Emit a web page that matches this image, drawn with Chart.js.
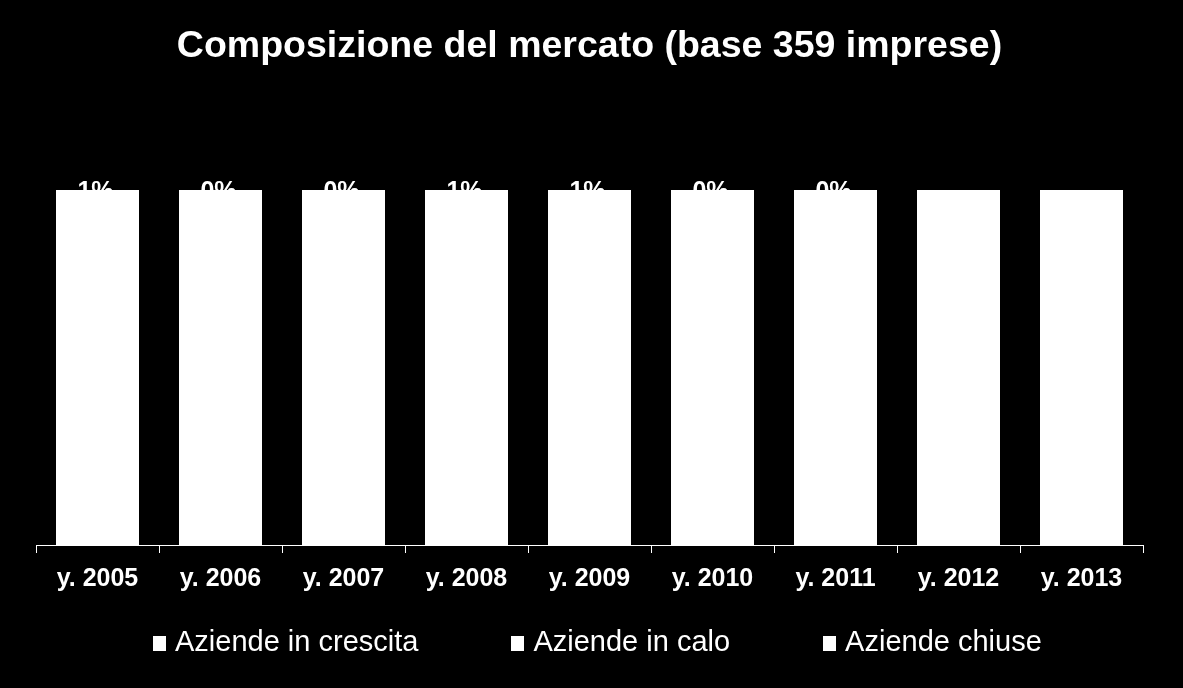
<!DOCTYPE html>
<html>
<head>
<meta charset="utf-8">
<script src="https://cdn.jsdelivr.net/npm/chart.js@4/dist/chart.umd.min.js"></script>
<style>
  html, body { margin: 0; padding: 0; background: #000; }
  #wrap { position: relative; width: 1183px; height: 688px; }
  #chart { position: absolute; left: 0; top: 0; }
  #legend {
    position: absolute; left: 153px; top: 627px; white-space: nowrap;
    font-family: 'Liberation Sans', Arial, sans-serif; font-size: 29px; line-height: 29px; color: #fff;
  }
  .item { display: inline-block; margin-right: 93px; }
  .box { display: inline-block; width: 13px; height: 15px; background: #fff; margin-right: 9px; vertical-align: baseline; }
</style>
</head>
<body>
<div id="wrap">
  <canvas id="chart" width="1183" height="688"></canvas>
  <div id="legend"></div>
</div>
<script>
const years = ['y. 2005', 'y. 2006', 'y. 2007', 'y. 2008', 'y. 2009', 'y. 2010', 'y. 2011', 'y. 2012', 'y. 2013'];
const seriesNames = ['Aziende in crescita', 'Aziende in calo', 'Aziende chiuse'];

// % of companies (100% stacked); growth / decline split is not visible in the picture
const crescita = [62, 58, 55, 49, 34, 45, 41, 38, 44];
const calo = [37, 42, 45, 50, 65, 55, 59, 62, 56];
const chiuse = [1, 0, 0, 1, 1, 0, 0, null, null];

const FONT = "'Liberation Sans', Arial, sans-serif";

// percent labels on the top segment (white on white, so only the upper half shows)
const labelPlugin = {
  id: 'topLabels',
  afterDatasetsDraw(chart) {
    const { ctx } = chart;
    const meta = chart.getDatasetMeta(2);
    ctx.save();
    ctx.font = `bold 25px ${FONT}`;
    ctx.fillStyle = '#fff';
    ctx.textAlign = 'center';
    ctx.textBaseline = 'middle';
    meta.data.forEach((bar, i) => {
      const v = chiuse[i];
      if (v === null) return;
      ctx.fillText(`${v}%`, bar.x - 2, bar.y + 2);
    });
    ctx.restore();
  }
};

// fixed thickness on a 123px category keeps bar edges on whole pixels (no seams)
const datasets = [crescita, calo, chiuse].map((values, i) => ({
  label: seriesNames[i],
  data: values,
  backgroundColor: '#ffffff',
  borderWidth: 0,
  inflateAmount: 1,
  barThickness: 81
}));

new Chart(document.getElementById('chart'), {
  type: 'bar',
  data: { labels: years, datasets },
  options: {
    responsive: false,
    animation: false,
    layout: { padding: { left: 36, right: 40, top: 0, bottom: 83 } },
    plugins: {
      legend: { display: false },
      tooltip: { enabled: false },
      title: {
        display: true,
        text: 'Composizione del mercato (base 359 imprese)',
        color: '#fff',
        font: { family: FONT, size: 37.5, weight: 'bold' },
        padding: { top: 24, bottom: 121 }
      }
    },
    scales: {
      x: {
        stacked: true,
        grid: { display: true, drawOnChartArea: false, color: '#fff', tickLength: 8, offset: true },
        border: { color: '#fff', width: 1 },
        ticks: { color: '#fff', padding: 11, font: { family: FONT, size: 25, weight: 'bold' } }
      },
      y: { stacked: true, display: false, min: 0, max: 100 }
    }
  },
  plugins: [labelPlugin]
});

// legend row
const legend = document.getElementById('legend');
seriesNames.forEach(name => {
  const item = document.createElement('span');
  item.className = 'item';
  const box = document.createElement('span');
  box.className = 'box';
  item.appendChild(box);
  item.appendChild(document.createTextNode(name));
  legend.appendChild(item);
});
</script>
</body>
</html>
